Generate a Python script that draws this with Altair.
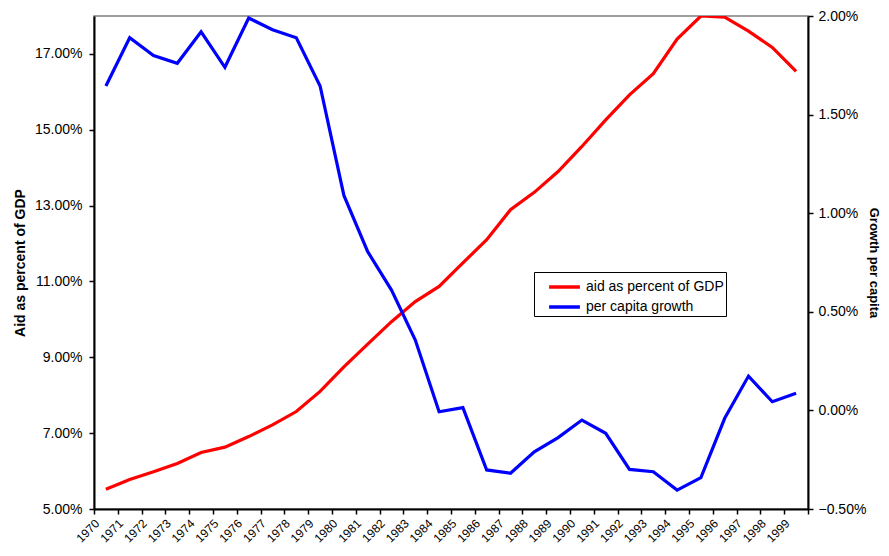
import altair as alt
import pandas as pd

years = [str(y) for y in range(1970, 2000)]
aid = [5.52, 5.78, 5.98, 6.20, 6.49, 6.63, 6.91, 7.22, 7.57, 8.10,
       8.75, 9.35, 9.94, 10.47, 10.87, 11.49, 12.10, 12.89, 13.35, 13.90,
       14.56, 15.26, 15.92, 16.48, 17.39, 18.00, 17.97, 17.60, 17.17, 16.54]
growth = [1.645, 1.89, 1.80, 1.76, 1.92, 1.74, 1.99, 1.93, 1.89, 1.645,
          1.09, 0.805, 0.61, 0.357, -0.007, 0.014, -0.302, -0.319, -0.21, -0.138,
          -0.049, -0.116, -0.299, -0.311, -0.404, -0.341, -0.04, 0.174, 0.044, 0.087]
left_ticks = [5, 7, 9, 11, 13, 15, 17]
right_ticks = [-0.5, 0, 0.5, 1.0, 1.5, 2.0]
series_names = ["aid as percent of GDP", "per capita growth"]
series_colors = ["#FF0000", "#0000FF"]

df = pd.DataFrame({"year": years, "aid": aid, "growth": growth})

FONT = "Liberation Sans"

x_enc = alt.X(
    "year:O",
    sort=years,
    scale=alt.Scale(paddingInner=0, paddingOuter=0),
    axis=alt.Axis(
        title=None, labelAngle=-45, labelAlign="right", labelBaseline="middle",
        tickBand="extent", labelFont=FONT, labelFontSize=12,
        labelOffset=-9, labelPadding=7, tickSize=5, domainWidth=2, tickWidth=1.5,
    ),
)

color_scale = alt.Scale(domain=series_names, range=series_colors)
legend = alt.Legend(
    title=None, orient="none", legendX=440, legendY=256,
    strokeColor="black", fillColor="white", padding=2,
    symbolType="M-1.4,0L1.4,0", symbolStrokeWidth=3.5, symbolSize=484,
    symbolOffset=15.5, labelFontSize=14, labelFont=FONT, labelColor="black",
    labelOffset=8.5, rowPadding=0,
)

aid_line = alt.Chart(df).mark_line(strokeWidth=3.2, clip=True).encode(
    x=x_enc,
    y=alt.Y(
        "aid:Q",
        scale=alt.Scale(domain=[5, 18], nice=False, zero=False),
        axis=alt.Axis(
            title="Aid as percent of GDP", values=left_ticks,
            labelExpr="format(datum.value, '.2f') + '%'",
            grid=False, tickSize=5, domainWidth=2, tickWidth=1.5,
            labelPadding=7, titlePadding=7,
        ),
    ),
    color=alt.Color("s:N", scale=color_scale, legend=legend),
).transform_calculate(s="'aid as percent of GDP'")

growth_line = alt.Chart(df).mark_line(strokeWidth=3.2, clip=True).encode(
    x=x_enc,
    y=alt.Y(
        "growth:Q",
        scale=alt.Scale(domain=[-0.5, 2.0], nice=False, zero=False),
        axis=alt.Axis(
            title="Growth per capita", orient="right", values=right_ticks,
            labelExpr="format(datum.value, '.2f') + '%'",
            grid=False, tickSize=5, domainWidth=2, tickWidth=1.5,
            labelPadding=5, titlePadding=1, titleFontSize=13,
        ),
    ),
    color=alt.Color("s:N", scale=color_scale, legend=legend),
).transform_calculate(s="'per capita growth'")

chart = (
    alt.layer(aid_line, growth_line)
    .resolve_scale(y="independent")
    .properties(
        width=714, height=493,
        autosize=alt.AutoSizeParams(type="none"),
        padding={"left": 86, "top": 8, "right": 73, "bottom": 39},
        background="white",
    )
    .configure_view(stroke="#808080", strokeWidth=1.5)
    .configure_axis(
        labelFont=FONT, labelFontSize=14, labelColor="black",
        titleFont=FONT, titleFontSize=14, titleFontWeight="bold", titleColor="black",
        domainColor="black", tickColor="black",
    )
)

chart.save("out.html", embed_options={"renderer": "svg", "actions": False})
